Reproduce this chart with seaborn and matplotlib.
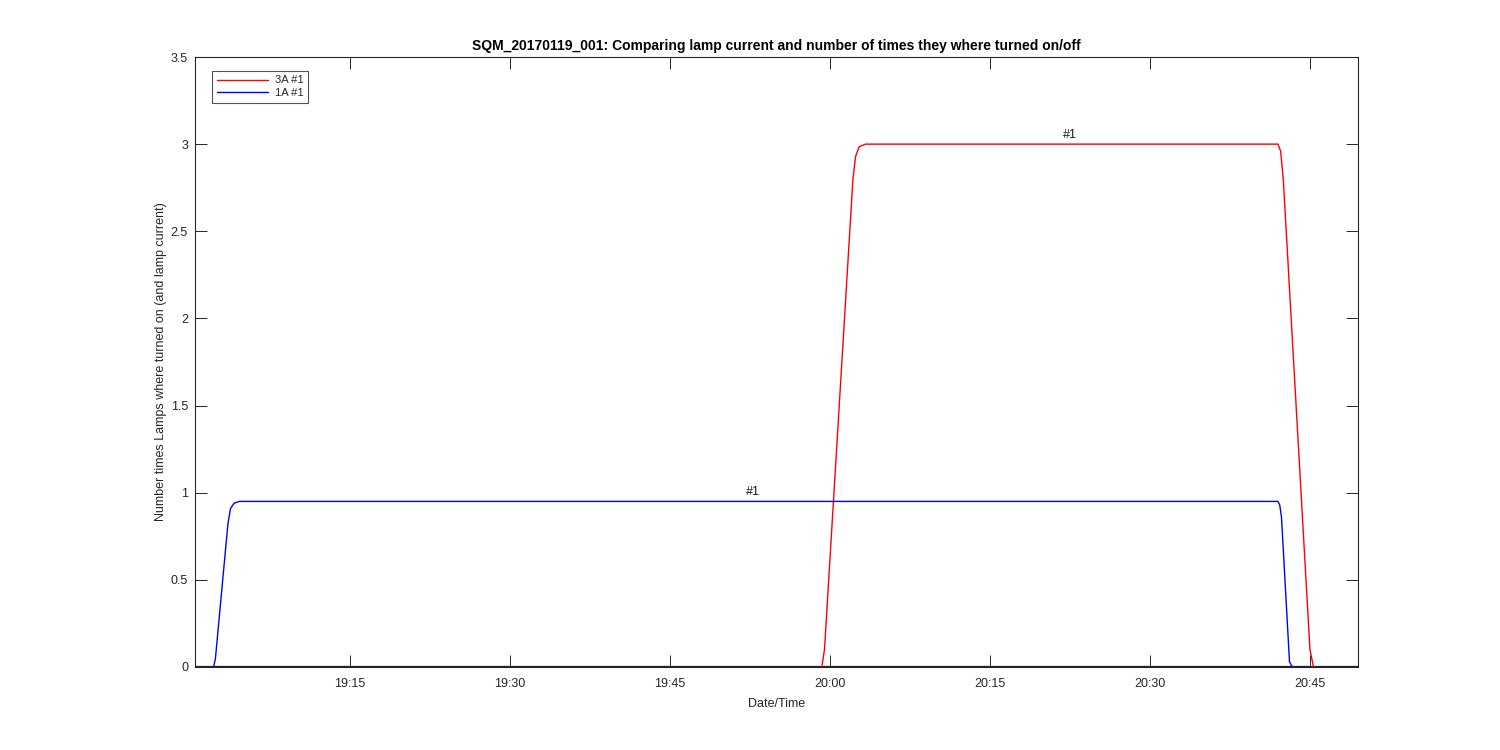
import pandas as pd
import seaborn as sns
import matplotlib.pyplot as plt
import matplotlib.dates as mdates

day = "2017-01-19 "

# 3A lamp #1 (red)
t_3a = ["19:59:15", "19:59:30", "20:02:10", "20:02:25", "20:02:45", "20:03:20",
        "20:42:00", "20:42:15", "20:42:30", "20:45:00", "20:45:20"]
v_3a = [0, 0.1, 2.8, 2.93, 2.985, 3.0, 3.0, 2.96, 2.8, 0.1, 0]

# 1A lamp #1 (blue)
t_1a = ["19:02:15", "19:02:25", "19:03:35", "19:03:50", "19:04:10", "19:04:40",
        "20:42:00", "20:42:10", "20:42:20", "20:43:05", "20:43:20"]
v_1a = [0, 0.05, 0.82, 0.91, 0.94, 0.95, 0.95, 0.93, 0.86, 0.03, 0]

# lamps off (black baseline)
t_off = ["19:00:30", "20:49:30"]
v_off = [0, 0]

labels = ["3A #1", "1A #1"]
colors = ["red", "blue"]
ann_t = ["20:22:30", "19:52:50"]
ann_v = [3.0, 0.95]

df = pd.concat([
    pd.DataFrame({"time": pd.to_datetime([day + t for t in t_3a]), "val": v_3a, "lamp": labels[0]}),
    pd.DataFrame({"time": pd.to_datetime([day + t for t in t_1a]), "val": v_1a, "lamp": labels[1]}),
])
off = pd.DataFrame({"time": pd.to_datetime([day + t for t in t_off]), "val": v_off})

sns.set_theme(style="white")
plt.rcParams['font.family'] = ['Liberation Sans', 'DejaVu Sans']
plt.rcParams['xtick.direction'] = 'in'
plt.rcParams['ytick.direction'] = 'in'

fig = plt.figure(figsize=(15, 7.5), dpi=100)
ax = fig.add_axes([0.13, 0.1107, 0.7753, 0.8133])

sns.lineplot(data=off, x="time", y="val", color="#222222", linewidth=1.6, ax=ax)
sns.lineplot(data=df, x="time", y="val", hue="lamp", palette=dict(zip(labels, colors)),
             estimator=None, sort=False, linewidth=1.0, ax=ax)

for t, v in zip(ann_t, ann_v):
    ax.text(pd.Timestamp(day + t), v + 0.02, "#1", ha="center", va="bottom",
            fontsize=9, color="#1a1a1a")

ax.set_xlim(pd.Timestamp(day + "19:00:30"), pd.Timestamp(day + "20:49:30"))
ax.set_ylim(0, 3.5)
ax.set_yticks([0, 0.5, 1, 1.5, 2, 2.5, 3, 3.5])
ax.set_yticklabels(["0", "0.5", "1", "1.5", "2", "2.5", "3", "3.5"])
ax.xaxis.set_major_locator(mdates.MinuteLocator(byminute=[0, 15, 30, 45]))
ax.xaxis.set_major_formatter(mdates.DateFormatter("%H:%M"))
ax.tick_params(axis="both", which="major", labelsize=9, length=8.5, width=0.7,
               color="#262626", labelcolor="#262626",
               top=True, right=True, bottom=True, left=True)
ax.tick_params(axis="x", pad=8)
ax.tick_params(axis="y", pad=5)
for s in ax.spines.values():
    s.set_color("#262626")
    s.set_linewidth(0.8)

ax.set_xlabel("Date/Time", fontsize=9, color="#262626", labelpad=6)
ax.set_ylabel("Number times Lamps where turned on (and lamp current)", fontsize=9,
              color="#262626", labelpad=3)
ax.set_title("SQM_20170119_001: Comparing lamp current and number of times they where turned on/off",
             fontsize=10, fontweight="bold", color="black", pad=5)

handles, lbls = ax.get_legend_handles_labels()
leg = ax.legend(handles[-2:], lbls[-2:], loc="upper left", fontsize=8, frameon=True,
                fancybox=False, edgecolor="#262626", handlelength=4.6, borderpad=0.4,
                labelspacing=0.25, handletextpad=0.6, bbox_to_anchor=(0.015, 0.977),
                borderaxespad=0)
leg.get_frame().set_linewidth(0.8)

fig.savefig("out.png", dpi=100)
